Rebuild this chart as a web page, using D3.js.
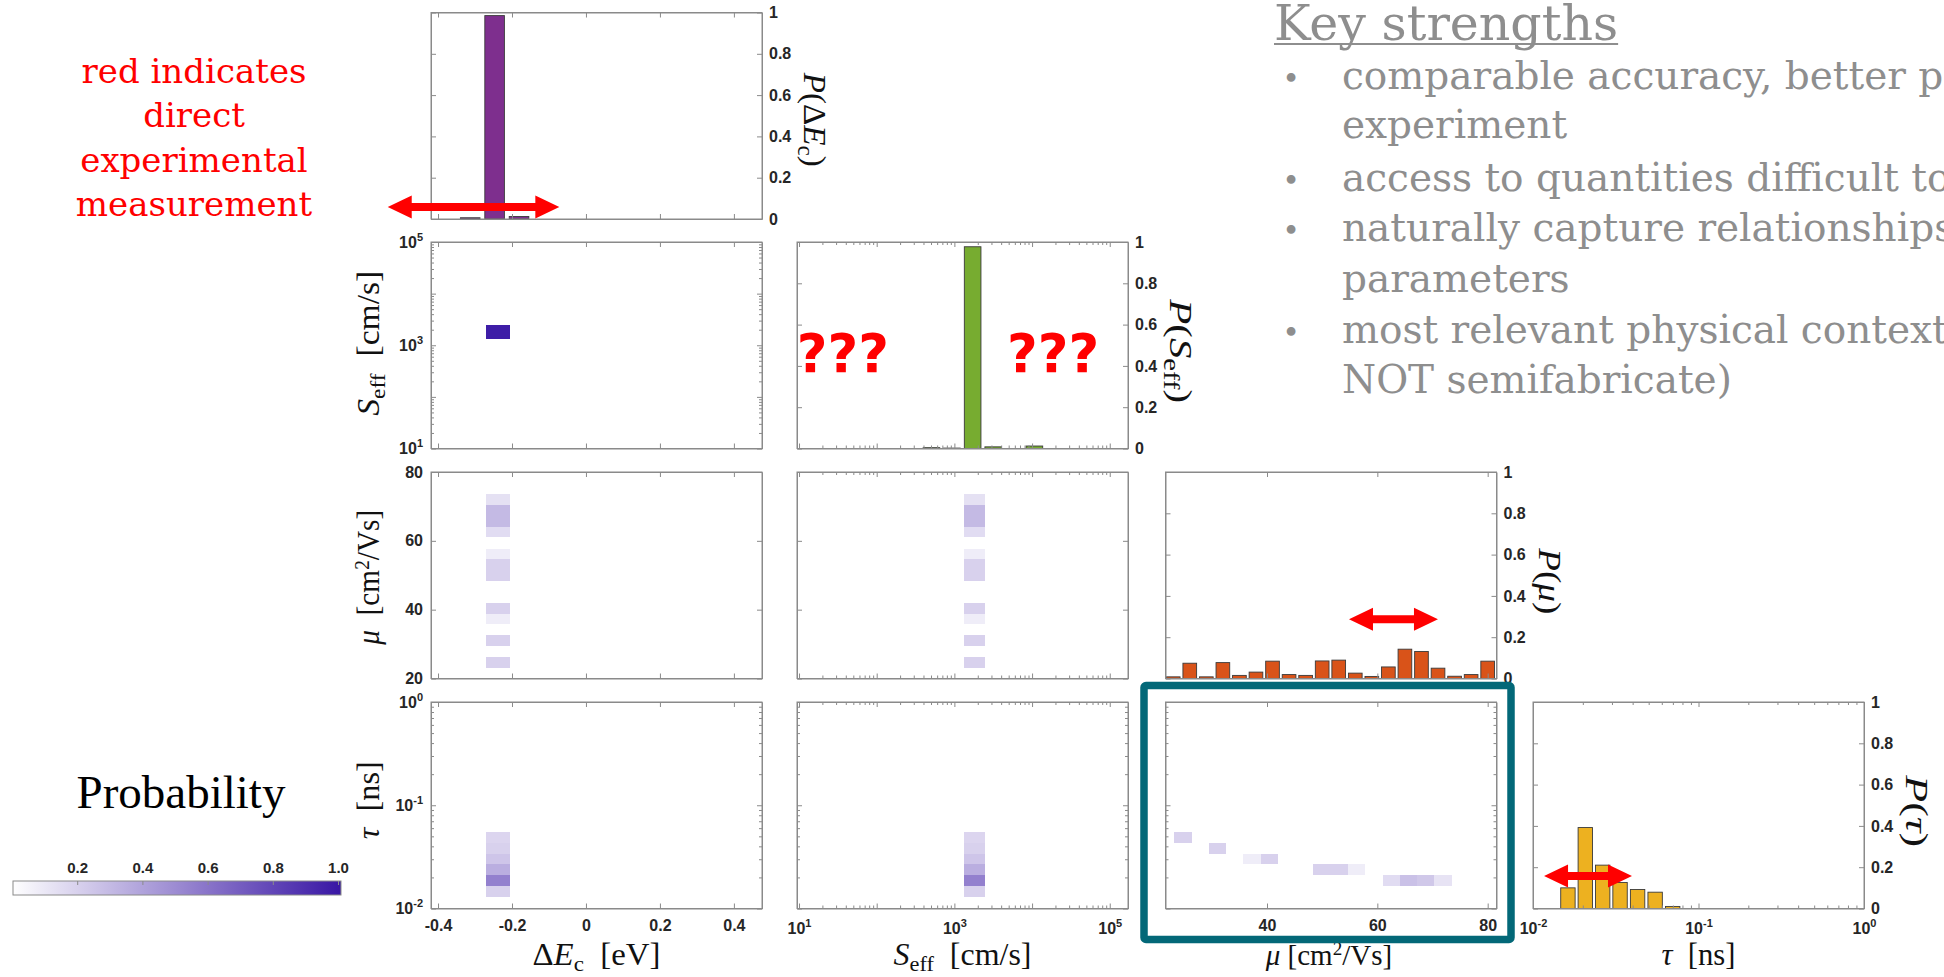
<!DOCTYPE html>
<html><head><meta charset="utf-8">
<script src="https://cdn.jsdelivr.net/npm/d3@7/dist/d3.min.js"></script>
<style>html,body{margin:0;padding:0;background:#fff;overflow:hidden}svg{display:block}</style>
</head><body>
<svg id="chart" width="1944" height="977"></svg>
<script>
// ================= DATA =================
// tick labels
const dETicks = [-0.4, -0.2, 0, 0.2, 0.4];
const probTicks = [0, 0.2, 0.4, 0.6, 0.8, 1];
const muXTicks = [40, 60, 80];
const muYTicks = [20, 40, 60, 80];
const seffDecades = [10, 100, 1000, 10000, 100000];
const seffLabelTicks = [10, 1000, 100000];
const tauDecades = [0.01, 0.1, 1];
const colorbarTicks = [0.2, 0.4, 0.6, 0.8, 1.0];

// marginal histograms
const dEHistCenters = [-0.313, -0.247, -0.181];
const dEHistValues  = [0.006, 0.985, 0.012];
const seffHistLog10Centers = [2.705, 2.968, 3.235, 3.500, 4.030];
const seffHistValues = [0.004, 0.002, 0.977, 0.008, 0.012];
const muHistCenters = [23, 26, 29, 32, 35, 38, 41, 44, 47, 50, 53, 56, 59, 62, 65, 68, 71, 74, 77, 80];
const muHistValues  = [0.008, 0.074, 0.008, 0.077, 0.015, 0.031, 0.084, 0.019, 0.015, 0.085, 0.089, 0.026, 0.010, 0.056, 0.142, 0.131, 0.050, 0.011, 0.019, 0.084];
const tauHistLog10Centers = [-1.789, -1.684, -1.579, -1.474, -1.368, -1.262, -1.156];
const tauHistValues = [0.100, 0.392, 0.210, 0.126, 0.092, 0.079, 0.010];

// joint heat-map cells
const dEHeatCenter = -0.238;
const seffHeatLog10Center = 3.26;
const dESeffProb = 0.98;
const muHeatCenters = [24.75, 31.05, 37.3, 40.45, 49.95, 53.05, 56.2, 62.55, 65.7, 68.8, 71.9];
const muHeatProb    = [0.20, 0.20, 0.08, 0.20, 0.20, 0.20, 0.08, 0.15, 0.30, 0.30, 0.13];
const tauHeatLog10Centers = [-1.310, -1.415, -1.520, -1.626, -1.731, -1.836];
const tauHeatProb         = [0.18, 0.20, 0.25, 0.35, 0.55, 0.20];
const muTauMu       = [24.75, 31.05, 37.3, 40.45, 49.95, 53.05, 56.2, 62.55, 65.7, 68.8, 71.9];
const muTauLog10Tau = [-1.310, -1.415, -1.520, -1.520, -1.626, -1.626, -1.626, -1.731, -1.731, -1.731, -1.731];
const muTauProb     = [0.20, 0.20, 0.08, 0.20, 0.20, 0.20, 0.08, 0.15, 0.27, 0.24, 0.12];

// bin widths (data units; log widths in decades)
const dEBarWidth = 0.053, dEHeatWidth = 0.063;
const seffBarWidthDec = 0.214, seffHeatWidthDec = 0.265;
const muBarWidth = 2.48, muHeatWidth = 3.14;
const tauBarWidthDec = 0.087, tauHeatWidthDec = 0.105;

// annotation arrows (data coordinates of their panels)
const arrowDE  = {from: -0.536, to: -0.072, at: 0.058};
const arrowMu  = {from: 54.86, to: 70.99, at: 0.287};
const arrowTau = {from: 0.01166, to: 0.03964, at: 0.157};
const questionLog10Seff = [1.564, 4.27];
const questionProb = 0.37;

// texts
const redNote = ["red indicates", "direct", "experimental", "measurement"];
const strengthsTitle = "Key strengths";
const strengthsLines = [
  {bullet: true,  text: "comparable accuracy, better p"},
  {bullet: false, text: "experiment"},
  {bullet: true,  text: "access to quantities difficult to"},
  {bullet: true,  text: "naturally capture relationships"},
  {bullet: false, text: "parameters"},
  {bullet: true,  text: "most relevant physical context"},
  {bullet: false, text: "NOT semifabricate)"}
];

// ================= DRAWING =================
const svg = d3.select("#chart");
const W = 331, H = 206.5;
const colLeft = [431, 797, 1165.5, 1533];
const rowTop = [12.5, 242, 472, 702];
const BOX = "#8a8a8a", TXT = "#262626";
const SANS = "'Liberation Sans', Arial, sans-serif";
const SERIF = "'Liberation Serif', 'Times New Roman', serif";
const SLAB = "'DejaVu Serif', serif";
const TICKFS = 16;
const cmap = d3.scaleLinear().domain([0, 1]).range(["#ffffff", "#3a18a5"]).interpolate(d3.interpolateRgb);

const fmt1 = d => d === 0 ? "0" : (d === 1 ? "1" : (d < 0 ? "-" : "") + Math.abs(d).toFixed(1));
function lin(domain, ticks, fmt) { return {log: false, domain, ticks, labels: ticks, fmt}; }
function lg(domain, ticks, labels) { return {log: true, domain, ticks, labels}; }
const V = {
  dE: lin([-0.419, 0.476], dETicks, fmt1),
  seffX: lg([10 ** 0.974, 10 ** 5.235], seffDecades, seffLabelTicks),
  seffY: lg([10, 1e5], seffDecades, seffLabelTicks),
  muX: lin([21.6, 81.6], muXTicks, d => String(d)),
  muY: lin([20, 80], muYTicks, d => String(d)),
  tauX: lg([0.01, 1], tauDecades, tauDecades),
  tauY: lg([0.01, 1], tauDecades, tauDecades),
  prob: lin([0, 1], probTicks, fmt1)
};
function mkScale(v, range) { return (v.log ? d3.scaleLog() : d3.scaleLinear()).domain(v.domain).range(range); }
function minors(v) {
  const out = [];
  const a = Math.floor(Math.log10(v.domain[0])), b = Math.ceil(Math.log10(v.domain[1]));
  for (let k = a; k < b; k++) for (let m = 2; m <= 9; m++) {
    const t = m * 10 ** k;
    if (t >= v.domain[0] && t <= v.domain[1]) out.push(t);
  }
  return out;
}

function drawAxis(g, v, s, orient, withLabels) {
  const gen = {bottom: d3.axisBottom, top: d3.axisTop, left: d3.axisLeft, right: d3.axisRight}[orient];
  const tr = orient === "bottom" ? `translate(0,${H})` : orient === "right" ? `translate(${W},0)` : null;
  const lo = Math.min(...v.domain), hi = Math.max(...v.domain);
  const ticks = v.ticks.filter(t => t >= lo - 1e-9 && t <= hi + 1e-9);
  const pad = orient === "bottom" ? (v.log ? 14 : 11) : orient === "left" ? 8 : 7;
  const ax = gen(s).tickValues(ticks).tickSize(-5).tickSizeOuter(0).tickPadding(pad);
  if (withLabels && !v.log) ax.tickFormat(v.fmt); else ax.tickFormat(() => "");
  const a = g.append("g").attr("transform", tr).call(ax);
  a.attr("font-family", SANS).attr("font-size", TICKFS).attr("font-weight", "bold");
  a.select(".domain").attr("stroke", BOX);
  a.selectAll(".tick line").attr("stroke", BOX);
  a.selectAll(".tick text").attr("fill", TXT);
  if (withLabels && v.log) {
    a.selectAll(".tick text").each(function (d) {
      const t = d3.select(this);
      t.text(null);
      if (!v.labels.some(l => Math.abs(l - d) / d < 1e-6)) { t.remove(); return; }
      t.append("tspan").text("10");
      t.append("tspan").attr("dy", -7).attr("font-size", 11).text(String(Math.round(Math.log10(d))));
    });
  }
  if (!withLabels) a.selectAll(".tick text").remove();
  if (v.log) {
    const mn = gen(s).tickValues(minors(v)).tickSize(-3).tickSizeOuter(0).tickFormat(() => "");
    const m = g.append("g").attr("transform", tr).call(mn);
    m.select(".domain").remove();
    m.selectAll(".tick line").attr("stroke", BOX);
    m.selectAll(".tick text").remove();
  }
}

function panel(r, c, xv, yv) {
  const g = svg.append("g").attr("transform", `translate(${colLeft[c]},${rowTop[r]})`);
  const xs = mkScale(xv, [0, W]), ys = mkScale(yv, [H, 0]);
  const content = g.append("g");
  const axes = () => {
    drawAxis(g, xv, xs, "bottom", r === 3);
    drawAxis(g, xv, xs, "top", false);
    drawAxis(g, yv, ys, "left", c === 0 && r > 0);
    drawAxis(g, yv, ys, "right", r === c);
    g.append("rect").attr("width", W).attr("height", H).attr("fill", "none").attr("stroke", BOX).attr("stroke-width", 1);
  };
  return {g, content, xs, ys, axes, xv, yv};
}

function edges(c, half, isLog) { return isLog ? [10 ** (c - half), 10 ** (c + half)] : [c - half, c + half]; }

function bars(p, centers, values, width, isLog, color) {
  p.content.selectAll(null).data(d3.zip(centers, values)).join("rect")
    .attr("x", d => p.xs(edges(d[0], width / 2, isLog)[0]))
    .attr("width", d => p.xs(edges(d[0], width / 2, isLog)[1]) - p.xs(edges(d[0], width / 2, isLog)[0]))
    .attr("y", d => p.ys(d[1]))
    .attr("height", d => p.ys(0) - p.ys(d[1]))
    .attr("fill", color).attr("stroke", "#3a3a3a").attr("stroke-width", 0.9);
}

function cells(p, xc, yc, probs, xw, xLog, yw, yLog) {
  p.content.selectAll(null).data(d3.range(probs.length)).join("rect")
    .attr("x", i => p.xs(edges(xc[i], xw / 2, xLog)[0]))
    .attr("width", i => p.xs(edges(xc[i], xw / 2, xLog)[1]) - p.xs(edges(xc[i], xw / 2, xLog)[0]))
    .attr("y", i => p.ys(edges(yc[i], yw / 2, yLog)[1]))
    .attr("height", i => p.ys(edges(yc[i], yw / 2, yLog)[0]) - p.ys(edges(yc[i], yw / 2, yLog)[1]))
    .attr("fill", i => cmap(probs[i]))
    .attr("shape-rendering", "crispEdges");
}

const rep = (v, n) => d3.range(n).map(() => v);

// panels
const P00 = panel(0, 0, V.dE, V.prob);
bars(P00, dEHistCenters, dEHistValues, dEBarWidth, false, "#7e2f8e");

const P10 = panel(1, 0, V.dE, V.seffY);
cells(P10, [dEHeatCenter], [seffHeatLog10Center], [dESeffProb], dEHeatWidth, false, seffHeatWidthDec, true);

const P11 = panel(1, 1, V.seffX, V.prob);
bars(P11, seffHistLog10Centers, seffHistValues, seffBarWidthDec, true, "#77ac30");

const P20 = panel(2, 0, V.dE, V.muY);
cells(P20, rep(dEHeatCenter, muHeatCenters.length), muHeatCenters, muHeatProb, dEHeatWidth, false, muHeatWidth, false);

const P21 = panel(2, 1, V.seffX, V.muY);
cells(P21, rep(seffHeatLog10Center, muHeatCenters.length), muHeatCenters, muHeatProb, seffHeatWidthDec, true, muHeatWidth, false);

const P22 = panel(2, 2, V.muX, V.prob);
bars(P22, muHistCenters, muHistValues, muBarWidth, false, "#d95319");

const P30 = panel(3, 0, V.dE, V.tauY);
cells(P30, rep(dEHeatCenter, tauHeatLog10Centers.length), tauHeatLog10Centers, tauHeatProb, dEHeatWidth, false, tauHeatWidthDec, true);

const P31 = panel(3, 1, V.seffX, V.tauY);
cells(P31, rep(seffHeatLog10Center, tauHeatLog10Centers.length), tauHeatLog10Centers, tauHeatProb, seffHeatWidthDec, true, tauHeatWidthDec, true);

const P32 = panel(3, 2, V.muX, V.tauY);
cells(P32, muTauMu, muTauLog10Tau, muTauProb, muHeatWidth, false, tauHeatWidthDec, true);

const P33 = panel(3, 3, V.tauX, V.prob);
bars(P33, tauHistLog10Centers, tauHistValues, tauBarWidthDec, true, "#edb120");

[P00, P10, P11, P20, P21, P22, P30, P31, P32, P33].forEach(p => p.axes());

// axis titles
function rich(sel, parts, fs) {
  let cur = 0;
  parts.forEach(([t, st]) => {
    const ts = sel.append("tspan").text(t);
    let tgt = 0;
    if (st === "sub") { tgt = fs * 0.2; ts.attr("font-size", fs * 0.7); }
    else if (st === "sup") { tgt = -fs * 0.33; ts.attr("font-size", fs * 0.66); }
    else if (st === "i") ts.attr("font-style", "italic");
    if (tgt !== cur) { ts.attr("dy", tgt - cur); cur = tgt; }
  });
}
const T_dE = [["Δ", ""], ["E", "i"], ["c", "sub"], ["\u2002[eV]", ""]];
const T_seff = [["S", "i"], ["eff", "sub"], ["\u2002[cm/s]", ""]];
const T_mu = [["μ", "i"], ["\u2002[cm", ""], ["2", "sup"], ["/Vs]", ""]];
const T_muB = [["μ", "i"], [" [cm", ""], ["2", "sup"], ["/Vs]", ""]];
const T_tau = [["τ", "i"], ["\u2002[ns]", ""]];
const P_of = inner => [["P", "i"], ["(", ""], ...inner, [")", ""]];

// where, font size, target length, shift along the panel side
function title(p, parts, where, fs, len, shift) {
  const t = p.g.append("text").attr("font-family", SERIF).attr("font-size", fs).attr("fill", "#111").attr("text-anchor", "middle");
  if (where === "bottom") t.attr("x", W / 2 + shift).attr("y", H + 56.5);
  else if (where === "left") t.attr("transform", `translate(-52,${H / 2 + shift}) rotate(-90)`);
  else t.attr("transform", `translate(${W + 42},${H / 2 + shift}) rotate(90)`);
  rich(t, parts, fs);
  if (len) t.attr("textLength", len).attr("lengthAdjust", "spacingAndGlyphs");
}
title(P00, P_of([["Δ", ""], ["E", "i"], ["c", "sub"]]), "right", 32, 94, 4);
title(P11, P_of([["S", "i"], ["eff", "sub"]]), "right", 32, 104, 6);
title(P22, P_of([["μ", "i"]]), "right", 32, 66, 6);
title(P33, P_of([["τ", "i"]]), "right", 32, 72, 6);
title(P10, T_seff, "left", 31, 145, -2);
title(P20, T_mu, "left", 31, 135, 2);
title(P30, T_tau, "left", 31, 78, -5);
title(P30, T_dE, "bottom", 31, 128, 0);
title(P31, T_seff, "bottom", 31, 138, 0);
title(P32, T_muB, "bottom", 29, 0, -2);
title(P33, T_tau, "bottom", 31, 74, 0);

// red arrows
function arrow(p, a) {
  const x1 = p.xs(a.from), x2 = p.xs(a.to), y = p.ys(a.at);
  const hl = 24, hh = 11.5, sh = 4;
  const pts = [[x1, y], [x1 + hl, y - hh], [x1 + hl, y - sh], [x2 - hl, y - sh], [x2 - hl, y - hh], [x2, y],
               [x2 - hl, y + hh], [x2 - hl, y + sh], [x1 + hl, y + sh], [x1 + hl, y + hh]];
  p.g.append("path").attr("d", d3.line()(pts) + "Z").attr("fill", "#ff0000");
}
arrow(P00, arrowDE);
arrow(P22, arrowMu);
arrow(P33, arrowTau);

// question marks
P11.g.selectAll(null).data(questionLog10Seff).join("text")
  .attr("x", d => P11.xs(10 ** d)).attr("y", P11.ys(questionProb))
  .attr("text-anchor", "middle").attr("font-family", "'DejaVu Sans', sans-serif").attr("font-weight", "bold")
  .attr("font-size", 53).attr("fill", "#ff0000").text("???");

// teal highlight box
svg.append("rect").attr("x", 1144).attr("y", 685.5).attr("width", 367).attr("height", 254)
  .attr("fill", "none").attr("stroke", "#036878").attr("stroke-width", 7.5).attr("rx", 2);

// colorbar
const cb = d3.scaleLinear().domain([0, 1]).range([12, 338]);
const grad = svg.append("defs").append("linearGradient").attr("id", "cbg")
  .attr("gradientUnits", "userSpaceOnUse").attr("x1", cb(0)).attr("x2", cb(1)).attr("y1", 0).attr("y2", 0);
grad.selectAll("stop").data(d3.range(0, 1.0001, 0.1)).join("stop")
  .attr("offset", d => d).attr("stop-color", d => cmap(d));
svg.append("rect").attr("x", 13).attr("y", 881).attr("width", 328).attr("height", 14)
  .attr("fill", "url(#cbg)").attr("stroke", BOX).attr("stroke-width", 1);
const cbAxis = svg.append("g").attr("transform", "translate(0,881)")
  .call(d3.axisTop(cb).tickValues(colorbarTicks).tickSize(-4).tickSizeOuter(0).tickPadding(8).tickFormat(d => d.toFixed(1)));
cbAxis.select(".domain").remove();
cbAxis.attr("font-family", SANS).attr("font-size", 15).attr("font-weight", "bold");
cbAxis.selectAll(".tick line").attr("stroke", BOX);
cbAxis.selectAll(".tick text").attr("fill", TXT);

svg.append("text").attr("x", 181).attr("y", 808).attr("text-anchor", "middle")
  .attr("font-family", SERIF).attr("font-size", 47).attr("fill", "#000").text("Probability");

// red note
svg.append("g").attr("font-family", SLAB).attr("font-size", 34).attr("fill", "#ff0000").attr("text-anchor", "middle")
  .selectAll("text").data(redNote).join("text")
  .attr("x", 194).attr("y", (d, i) => 83 + i * 44.3).text(d => d);

// key strengths
const GRAY = "#8e8e8e";
const ks = svg.append("text").attr("x", 1274).attr("y", 40).attr("font-family", SLAB).attr("font-size", 49)
  .attr("fill", GRAY).text(strengthsTitle);
const ksLen = ks.node().getComputedTextLength();
svg.append("line").attr("x1", 1274).attr("x2", 1274 + ksLen).attr("y1", 44).attr("y2", 44)
  .attr("stroke", GRAY).attr("stroke-width", 2);
const lineY = [89, 138, 191, 241, 292, 343, 393];
const sg = svg.append("g").attr("font-family", SLAB).attr("fill", GRAY);
strengthsLines.forEach((l, i) => {
  if (l.bullet) sg.append("text").attr("x", 1291).attr("y", lineY[i]).attr("text-anchor", "middle").attr("font-size", 30).text("•");
  sg.append("text").attr("x", 1342).attr("y", lineY[i]).attr("font-size", 39).text(l.text);
});
</script>
</body></html>
